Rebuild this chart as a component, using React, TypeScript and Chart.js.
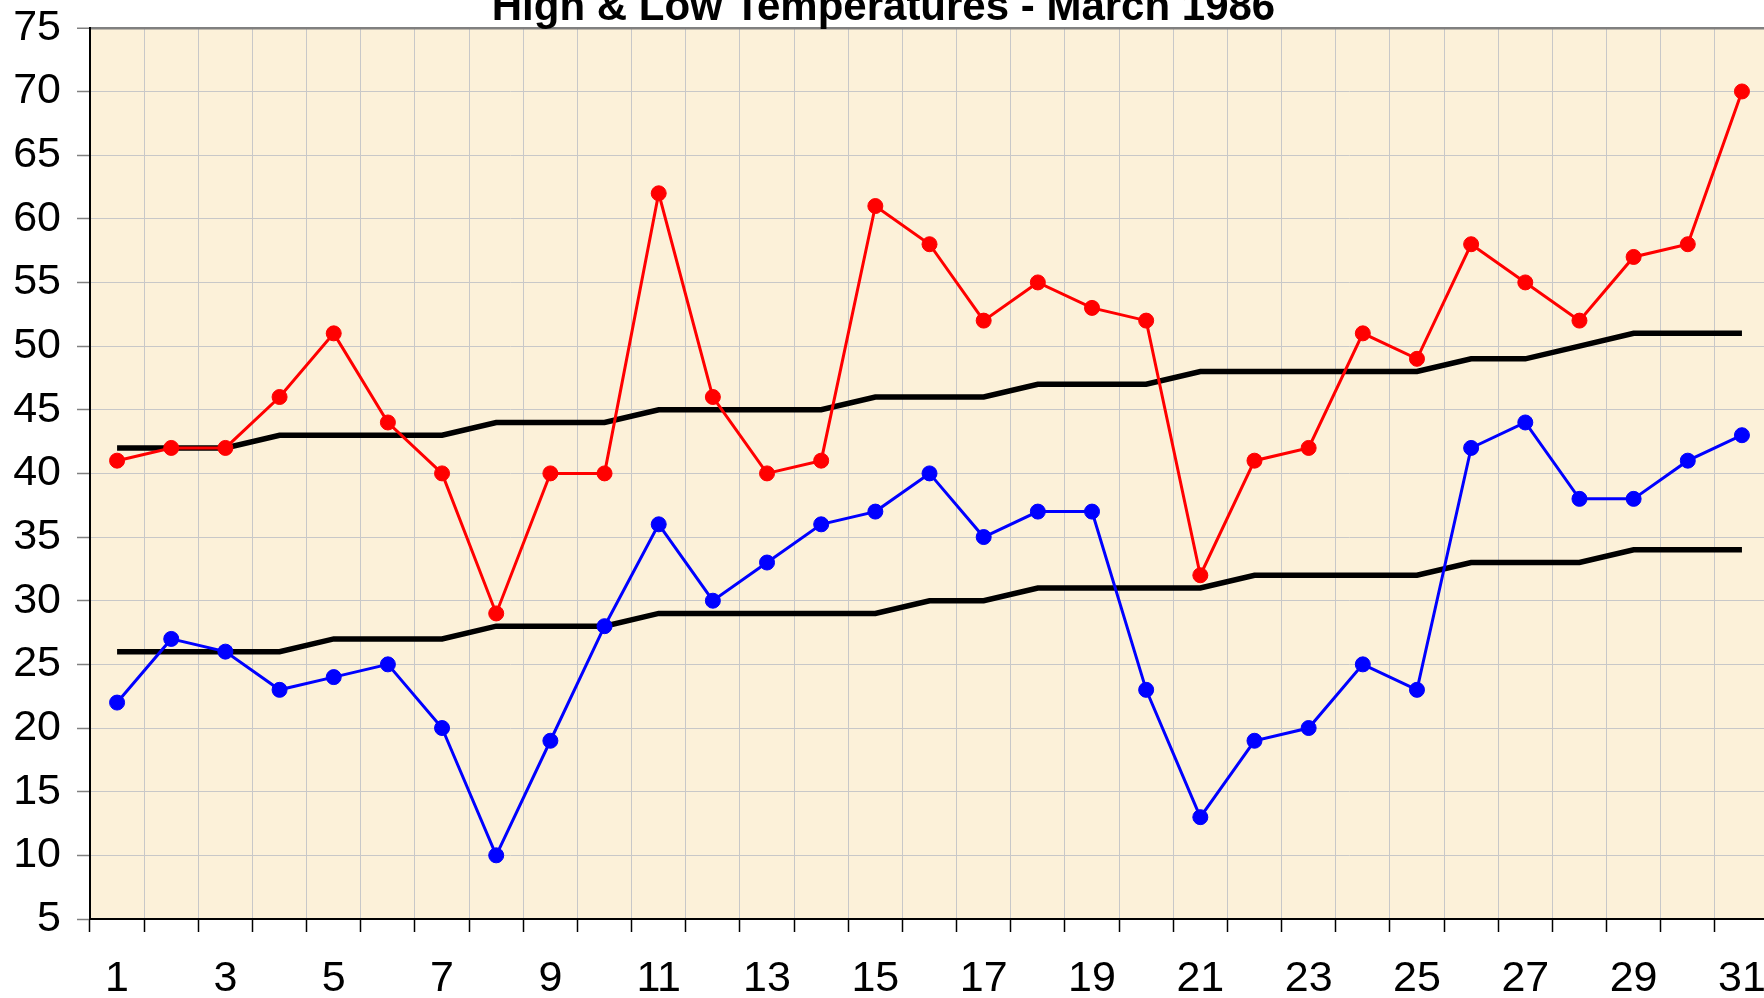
import React, { useEffect, useRef } from 'react';
import { Chart, registerables } from 'chart.js';

Chart.register(...registerables);

const chartTitle = 'High & Low Temperatures - March 1986';

const days = [
  '1', '2', '3', '4', '5', '6', '7', '8', '9', '10',
  '11', '12', '13', '14', '15', '16', '17', '18', '19', '20',
  '21', '22', '23', '24', '25', '26', '27', '28', '29', '30', '31',
];

const highTemps = [41, 42, 42, 46, 51, 44, 40, 29, 40, 40, 62, 46, 40, 41, 61, 58, 52, 55, 53, 52, 32, 41, 42, 51, 49, 58, 55, 52, 57, 58, 70];
const lowTemps = [22, 27, 26, 23, 24, 25, 20, 10, 19, 28, 36, 30, 33, 36, 37, 40, 35, 37, 37, 23, 13, 19, 20, 25, 23, 42, 44, 38, 38, 41, 43];
const normalHighs = [42, 42, 42, 43, 43, 43, 43, 44, 44, 44, 45, 45, 45, 45, 46, 46, 46, 47, 47, 47, 48, 48, 48, 48, 48, 49, 49, 50, 51, 51, 51];
const normalLows = [26, 26, 26, 26, 27, 27, 27, 28, 28, 28, 29, 29, 29, 29, 29, 30, 30, 31, 31, 31, 31, 32, 32, 32, 32, 33, 33, 33, 34, 34, 34];

const yMin = 5;
const yMax = 75;
const yStep = 5;

const FONT = '"Liberation Sans", Arial, Helvetica, sans-serif';
const OFFSET_TOP = 14;
const OFFSET_LEFT = 12;
const CANVAS_W = 1799;
const CANVAS_H = 998 + OFFSET_TOP;

const plotBackground = {
  id: 'plotBackground',
  beforeDraw(chart: any) {
    const { ctx, chartArea } = chart;
    if (!chartArea) return;
    ctx.save();
    ctx.fillStyle = '#FCF1D9';
    ctx.fillRect(chartArea.left, chartArea.top, chartArea.right - chartArea.left, chartArea.bottom - chartArea.top);
    ctx.restore();
  },
};

export default function App() {
  const canvasRef = useRef<HTMLCanvasElement | null>(null);

  useEffect(() => {
    const canvas = canvasRef.current;
    if (!canvas) return;
    const chart = new Chart(canvas, {
      type: 'line',
      data: {
        labels: days,
        datasets: [
          {
            label: 'High',
            data: highTemps,
            borderColor: '#FF0000',
            backgroundColor: '#FF0000',
            borderWidth: 3,
            pointRadius: 7.5,
            pointBorderWidth: 1,
            pointBorderColor: '#FF0000',
            pointBackgroundColor: '#FF0000',
            tension: 0,
          },
          {
            label: 'Low',
            data: lowTemps,
            borderColor: '#0000FF',
            backgroundColor: '#0000FF',
            borderWidth: 3,
            pointRadius: 7.5,
            pointBorderWidth: 1,
            pointBorderColor: '#0000FF',
            pointBackgroundColor: '#0000FF',
            tension: 0,
          },
          {
            label: 'Normal High',
            data: normalHighs,
            borderColor: '#000000',
            borderWidth: 5.5,
            pointRadius: 0,
            tension: 0,
          },
          {
            label: 'Normal Low',
            data: normalLows,
            borderColor: '#000000',
            borderWidth: 5.5,
            pointRadius: 0,
            tension: 0,
          },
        ],
      },
      options: {
        responsive: false,
        animation: false,
        devicePixelRatio: 1,
        layout: { padding: { left: 0, right: 8, top: 0, bottom: 0 } },
        plugins: {
          legend: { display: false },
          tooltip: { enabled: false },
          title: {
            display: true,
            text: chartTitle,
            color: '#000000',
            font: { family: FONT, size: 42, weight: 'bold', lineHeight: 0.9 },
            padding: { top: 0, bottom: 0 },
          },
        },
        scales: {
          x: {
            type: 'category',
            offset: true,
            grid: {
              offset: true,
              color: '#C8C8C8',
              lineWidth: 1,
              drawTicks: true,
              tickLength: 13,
              tickColor: '#000000',
              tickWidth: 1.5,
            },
            border: { color: '#000000', width: 2 },
            ticks: {
              autoSkip: false,
              maxRotation: 0,
              minRotation: 0,
              padding: 21,
              color: '#000000',
              font: { family: FONT, size: 43 },
              callback: function (this: any, value: any, index: number) {
                return index % 2 === 0 ? this.getLabelForValue(value) : '';
              },
            },
            afterFit(scale: any) {
              scale.height = CANVAS_H - (919 + OFFSET_TOP);
            },
          },
          y: {
            min: yMin,
            max: yMax,
            grid: {
              color: (ctx: any) => (ctx.tick && ctx.tick.value === yMax ? '#808080' : '#C8C8C8'),
              lineWidth: (ctx: any) => (ctx.tick && ctx.tick.value === yMax ? 2.5 : 1),
              drawTicks: true,
              tickLength: 13,
              tickColor: '#808080',
              tickWidth: 1.5,
            },
            border: { color: '#000000', width: 2 },
            ticks: {
              stepSize: yStep,
              padding: 16,
              color: '#000000',
              font: { family: FONT, size: 43 },
            },
            afterFit(scale: any) {
              scale.width = 90 + OFFSET_LEFT;
            },
          },
        },
      },
      plugins: [plotBackground],
    });
    return () => chart.destroy();
  }, []);

  return (
    <div style={{ position: 'fixed', left: 0, top: 0, width: 1764, height: 998, overflow: 'hidden', background: '#FFFFFF' }}>
      <div style={{ position: 'absolute', left: -OFFSET_LEFT, top: -OFFSET_TOP, width: CANVAS_W, height: CANVAS_H }}>
        <canvas ref={canvasRef} width={CANVAS_W} height={CANVAS_H} style={{ width: CANVAS_W, height: CANVAS_H, display: 'block' }} />
      </div>
    </div>
  );
}
